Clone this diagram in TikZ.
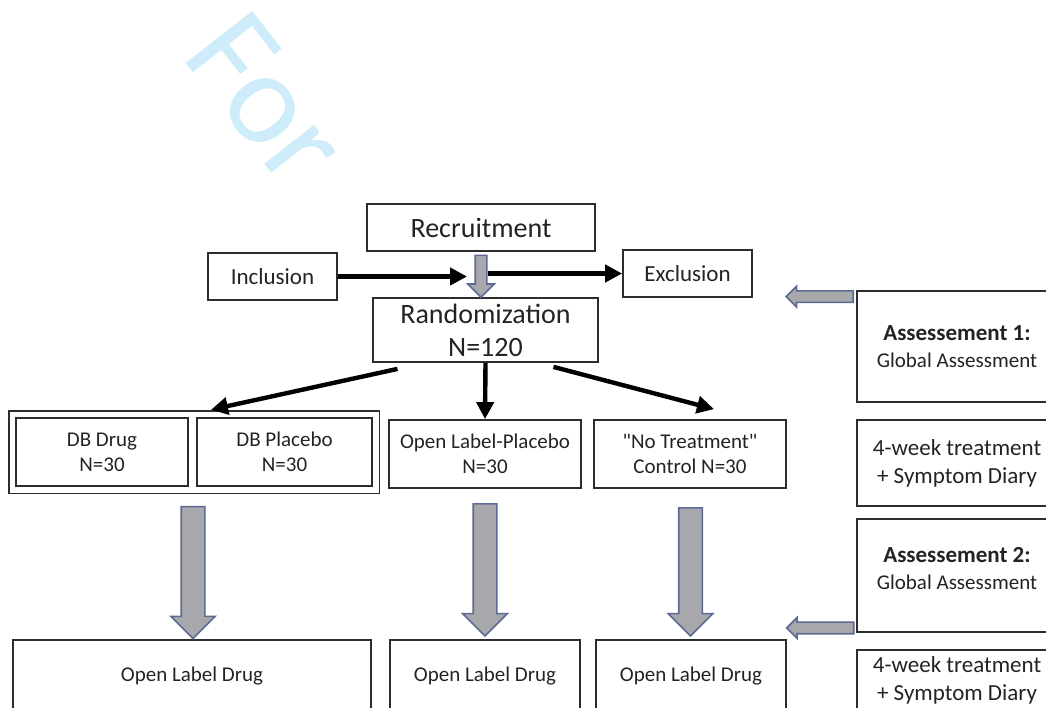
\documentclass[tikz,border=0pt]{standalone}
\usepackage{fontspec}
\setmainfont{Carlito}[Ligatures=TeXOff]
\usepackage{xcolor}
\usetikzlibrary{positioning, calc, arrows.meta, shapes.arrows, fit}

\definecolor{wmblue}{RGB}{206,236,250}
\definecolor{boxline}{RGB}{45,45,45}
\definecolor{inktext}{RGB}{35,35,35}
\definecolor{arrfill}{RGB}{168,168,172}
\definecolor{arredge}{RGB}{92,106,148}

\begin{document}
\begin{tikzpicture}[
  x=1pt, y=-1pt,
  box/.style={draw=boxline, line width=1.8pt, align=center, text=inktext, inner sep=2pt},
  bigtxt/.style={font=\fontsize{28}{33}\selectfont},
  midtxt/.style={font=\fontsize{23}{28}\selectfont},
  smalltxt/.style={font=\fontsize{21}{25}\selectfont},
  flow/.style={-{Triangle[length=17pt,width=17pt]}, line width=4.4pt, black},
  blockarr/.style={single arrow, draw=arredge, fill=arrfill, line width=1.6pt,
    single arrow head indent=0pt, anchor=center},
]
\useasboundingbox (0,0) rectangle (1046,707);
\clip (0,0) rectangle (1046,707);

% watermark, cut off below
\begin{scope}
  \clip (0,0) rectangle (1046,175);
  \node[text=wmblue, font=\fontsize{132}{132}\selectfont, rotate=-52,
    anchor=base west, inner sep=0pt] (wm) at (180,56) {For};
\end{scope}

% ---- top part ----
\node[box, bigtxt, minimum width=228pt, minimum height=47pt] (rec) at (481,227.5) {Recruitment};
\node[box, midtxt, minimum width=129pt, minimum height=47pt] (inc) at (272.5,276.5) {Inclusion};
\node[box, midtxt, minimum width=129pt, minimum height=47pt] (exc) at (687.5,273.5) {Exclusion};
\node[box, bigtxt, minimum width=225pt, minimum height=64pt] (rnd) at (485.5,330) {Randomization\\N=120};

\node[blockarr, shape border rotate=270, inner sep=5pt, minimum height=42pt,
  single arrow head extend=7.5pt] (gr0) at ($(rec.south)+(0,21.5)$) {};

\draw[flow] (inc.east) -- ($(inc.east -| gr0.center)+(-14,0)$);
\draw[flow] ($(exc.west -| gr0.center)+(7,0)$) -- (exc.west);

% ---- arms ----
\node[box, smalltxt, minimum width=172pt, minimum height=68pt] (dbd) at (102,452) {DB Drug\\N=30};
\node[box, smalltxt, minimum width=175pt, minimum height=68pt] (dbp) at (284.5,452) {DB Placebo\\N=30};
\node[draw=boxline, line width=1.8pt, fit=(dbd)(dbp), inner sep=6.5pt] (grp) {};
\node[box, smalltxt, minimum width=192pt, minimum height=68pt] (olp) at (485,454) {Open Label-Placebo\\N=30};
\node[box, smalltxt, minimum width=192pt, minimum height=68pt] (ntc) at (690,454) {"No Treatment"\\Control N=30};

\draw[flow] ($(rnd.south)+(-88,6)$) -- ($(grp.north)+(17,0)$);
\draw[flow] (rnd.south) -- (olp.north);
\draw[flow] ($(rnd.south)+(68,4)$) -- ($(ntc.north)+(24,-10)$);

% ---- open label phase ----
\node[box, smalltxt, minimum width=358pt, minimum height=72pt] (old1) at (192,676) {Open Label Drug};
\node[box, smalltxt, minimum width=190pt, minimum height=72pt] (old2) at (485,676) {Open Label Drug};
\node[box, smalltxt, minimum width=190pt, minimum height=72pt] (old3) at (691,676) {Open Label Drug};

\node[blockarr, shape border rotate=270, inner sep=11pt, minimum height=132pt,
  single arrow head extend=10.5pt] (dn1) at ($(grp.south)!0.5!(old1.north)$) {};
\node[blockarr, shape border rotate=270, inner sep=11pt, minimum height=132pt,
  single arrow head extend=10.5pt] (dn2) at ($(olp.south)!0.5!(old2.north)$) {};
\node[blockarr, shape border rotate=270, inner sep=11pt, minimum height=128pt,
  single arrow head extend=10.5pt] (dn3) at ($(ntc.south)!0.5!(old3.north)+(0,2)$) {};

% ---- schedule column ----
\node[box, font=\fontsize{21}{27}\selectfont, minimum width=200pt, minimum height=111pt] (as1) at (957,346.5)
  {{\fontsize{23}{27}\selectfont\bfseries Assessement 1:}\\Global Assessment};
\node[box, midtxt, minimum width=200pt, minimum height=86pt] (tw1) at (957,463) {4-week treatment\\+ Symptom Diary};
\node[box, font=\fontsize{21}{27}\selectfont, minimum width=200pt, minimum height=113pt] (as2) at (957,575.5)
  {{\fontsize{23}{27}\selectfont\bfseries Assessement 2:}\\Global Assessment\\[-12pt]\mbox{}};
\node[box, midtxt, minimum width=200pt, minimum height=60pt] (tw2) at (957,680) {4-week treatment\\+ Symptom Diary};

\node[blockarr, shape border rotate=180, inner sep=5pt, minimum height=67pt,
  single arrow head extend=4.5pt] (lf1) at ($(as1.north west)+(-33.5,6.5)$) {};
\node[blockarr, shape border rotate=180, inner sep=5pt, minimum height=67pt,
  single arrow head extend=4.5pt] (lf2) at ($(as2.south west)+(-33,-5)$) {};

\end{tikzpicture}
\end{document}
